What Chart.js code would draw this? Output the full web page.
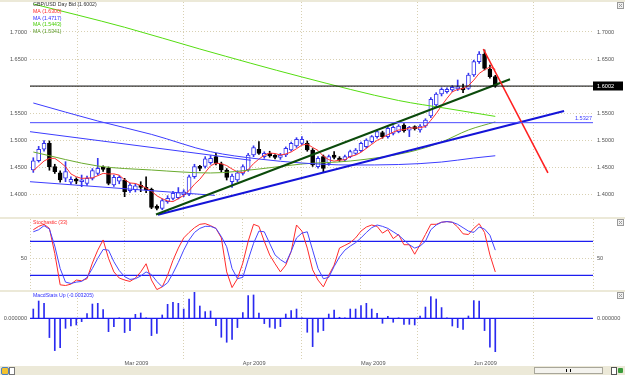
<!DOCTYPE html>
<html>
<head>
<meta charset="utf-8">
<title>GBP/USD Day Bid</title>
<script src="https://cdn.jsdelivr.net/npm/chart.js@4.4.1/dist/chart.umd.min.js"></script>
<style>
html,body{margin:0;padding:0;background:#ece9d8;}
#wrap{position:relative;width:625px;height:375px;overflow:hidden;background:#ece9d8;}
.pane{position:absolute;left:0;width:625px;background:#ffffff;}
.pane canvas{display:block;}
#p1{top:2px;height:215px;}
#p2{top:219px;height:71px;}
#p3{top:292px;height:74px;}
#bar{position:absolute;left:0;top:366px;width:625px;height:9px;background:#ece9d8;}
#ico{position:absolute;left:1px;top:1px;width:6px;height:6px;background:#f2c230;border:1px solid #4a7fc0;border-radius:2px;}
#lbtn{position:absolute;left:9px;top:1px;width:4px;height:6px;background:#fff;border:1px solid #777;}
#track{position:absolute;left:534px;top:1px;width:67px;height:5px;background:#f4f3ee;border:1px solid #a8a69a;}
#thumb{position:absolute;left:31px;top:1px;width:3px;height:3px;border-left:1px solid #000;border-right:1px solid #000;}
#rbtn{position:absolute;left:611px;top:1px;width:4px;height:6px;background:#fff;border:1px solid #555;}
#gbtn{position:absolute;left:618px;top:2px;width:5px;height:5px;background:#3a9a3a;border-radius:1px;}
</style>
</head>
<body>
<div id="wrap">
  <div class="pane" id="p1"><canvas id="c1" width="625" height="215"></canvas></div>
  <div class="pane" id="p2"><canvas id="c2" width="625" height="71"></canvas></div>
  <div class="pane" id="p3"><canvas id="c3" width="625" height="74"></canvas></div>
  <div id="bar"><div id="ico"></div><div id="lbtn"></div><div id="track"><div id="thumb"></div></div><div id="rbtn"></div><div id="gbtn"></div></div>
</div>
<script>
// ---------------- DATA ----------------
const monthLabels = ['Mar 2009', 'Apr 2009', 'May 2009', 'Jun 2009'];
const monthStartBar = [17, 39, 61, 82];          // bar index of first trading day of month
const priceTicks = [1.40, 1.45, 1.50, 1.55, 1.60, 1.65, 1.70];
const priceTicksHiddenLabel = [1.60];             // label hidden behind the last-price marker
const stochTicks = [50];
const macdTicks = [0];

const open = [
1.4454,1.4625,1.4836,1.4946,1.4515,1.4404,1.4301,1.4228,1.4275,1.4238,
1.4207,1.4300,1.4392,1.4484,1.4484,1.4177,1.4250,1.4269,1.4073,1.4090,
1.4158,1.4134,1.4097,1.3777,1.3746,1.3869,1.3931,1.3943,1.4000,1.4005,
1.4330,1.4500,1.4520,1.4590,1.4700,1.4570,1.4454,1.4238,1.4269,1.4392,
1.4454,1.4730,1.4836,1.4700,1.4762,1.4713,1.4688,1.4730,1.4823,1.4897,
1.4946,1.4946,1.4823,1.4515,1.4700,1.4577,1.4730,1.4669,1.4638,1.4700,
1.4762,1.4810,1.4884,1.4976,1.5069,1.5143,1.5069,1.5131,1.5161,1.5284,
1.5190,1.5241,1.5192,1.5266,1.5450,1.5653,1.5856,1.5900,1.5930,1.5950,
1.5960,1.5961,1.6207,1.6452,1.6594,1.6312,1.6175];
const high = [
1.4680,1.4890,1.4995,1.4990,1.4560,1.4440,1.4607,1.4330,1.4310,1.4361,
1.4340,1.4480,1.4669,1.4530,1.4510,1.4360,1.4350,1.4300,1.4210,1.4200,
1.4238,1.4330,1.4120,1.3810,1.3920,1.3980,1.4060,1.4130,1.4090,1.4360,
1.4560,1.4540,1.4700,1.4720,1.4760,1.4600,1.4480,1.4380,1.4440,1.4550,
1.4760,1.4900,1.4976,1.4790,1.4800,1.4740,1.4760,1.4880,1.4970,1.5050,
1.5069,1.4990,1.4850,1.4700,1.4730,1.4730,1.4792,1.4700,1.4730,1.4820,
1.4850,1.4970,1.5030,1.5090,1.5190,1.5170,1.5250,1.5270,1.5290,1.5310,
1.5260,1.5270,1.5290,1.5400,1.5790,1.5880,1.5970,1.5970,1.6010,1.6114,
1.6040,1.6240,1.6480,1.6637,1.6668,1.6391,1.6200];
const low = [
1.4410,1.4600,1.4800,1.4450,1.4390,1.4230,1.4238,1.4190,1.4200,1.4146,
1.4170,1.4270,1.4360,1.4430,1.4180,1.4150,1.4200,1.3962,1.4040,1.4050,
1.4054,1.4036,1.3740,1.3716,1.3720,1.3840,1.3900,1.3920,1.3960,1.3980,
1.4300,1.4440,1.4490,1.4560,1.4550,1.4420,1.4269,1.4134,1.4240,1.4360,
1.4430,1.4700,1.4740,1.4670,1.4690,1.4660,1.4650,1.4700,1.4800,1.4870,
1.4920,1.4800,1.4520,1.4490,1.4404,1.4540,1.4660,1.4610,1.4610,1.4680,
1.4740,1.4790,1.4860,1.4950,1.5040,1.5040,1.5040,1.5100,1.5140,1.5150,
1.5069,1.5190,1.5150,1.5240,1.5420,1.5620,1.5820,1.5870,1.5900,1.5920,
1.5880,1.5940,1.6180,1.6420,1.6300,1.6150,1.5979];
const close = [
1.4625,1.4836,1.4946,1.4515,1.4423,1.4269,1.4423,1.4282,1.4250,1.4269,
1.4300,1.4441,1.4484,1.4466,1.4207,1.4318,1.4318,1.4054,1.4177,1.4160,
1.4134,1.4085,1.3765,1.3746,1.3888,1.3931,1.4023,1.4036,1.4050,1.4330,
1.4515,1.4484,1.4660,1.4670,1.4577,1.4454,1.4318,1.4343,1.4404,1.4515,
1.4730,1.4866,1.4762,1.4762,1.4713,1.4688,1.4730,1.4853,1.4946,1.5019,
1.5019,1.4823,1.4546,1.4669,1.4484,1.4700,1.4688,1.4638,1.4700,1.4792,
1.4823,1.4946,1.5007,1.5069,1.5161,1.5069,1.5222,1.5241,1.5266,1.5180,
1.5240,1.5217,1.5266,1.5376,1.5758,1.5856,1.5943,1.5943,1.5980,1.5990,
1.5930,1.6207,1.6452,1.6594,1.6330,1.6175,1.6002];

// short MA (red), one value per bar
const maRed = [
1.4440,1.4530,1.4620,1.4670,1.4669,1.4598,1.4515,1.4382,1.4329,1.4299,
1.4305,1.4308,1.4349,1.4392,1.4380,1.4383,1.4359,1.4273,1.4215,1.4205,
1.4169,1.4122,1.4064,1.3978,1.3924,1.3883,1.3871,1.3925,1.3986,1.4074,
1.4191,1.4283,1.4408,1.4532,1.4581,1.4569,1.4536,1.4472,1.4419,1.4407,
1.4462,1.4572,1.4655,1.4727,1.4767,1.4758,1.4731,1.4749,1.4786,1.4847,
1.4913,1.4932,1.4871,1.4815,1.4708,1.4644,1.4617,1.4636,1.4642,1.4704,
1.4728,1.4780,1.4854,1.4927,1.5001,1.5050,1.5106,1.5152,1.5192,1.5196,
1.5230,1.5229,1.5234,1.5256,1.5371,1.5495,1.5640,1.5775,1.5896,1.5942,
1.5957,1.6010,1.6112,1.6235,1.6303,1.6352,1.6311];

// long MAs read at selected bars
const maBlueBars  = [0, 12, 22, 33, 42, 50, 59, 68, 76, 82, 86];
const maBlueVals  = [1.5690, 1.5358, 1.5111, 1.4792, 1.4657, 1.4583, 1.4546, 1.4555, 1.4601, 1.4675, 1.4717];
const maLimeBars  = [0, 17, 31, 50, 68, 77, 86];
const maLimeVals  = [1.7517, 1.7087, 1.6686, 1.6170, 1.5736, 1.5589, 1.5443];
const maOliveBars = [0, 12, 22, 33, 42, 50, 59, 70, 76, 81, 86];
const maOliveVals = [1.4786, 1.4528, 1.4454, 1.4399, 1.4472, 1.4565, 1.4620, 1.4786, 1.4970, 1.5192, 1.5341];

// drawn lines (bar index, price)
const lastClose = 1.6002;
const supportLevel = 1.5327;
const chanUpperBars = [-0.614, 40.5], chanUpperVals = [1.5161, 1.4633];
const chanLowerBars = [-0.614, 33.8], chanLowerVals = [1.4238, 1.3986];
const greenTrendBars = [22.84, 88.74], greenTrendVals = [1.3633, 1.6127];
const blueTrendBars = [23.2, 98.8],   blueTrendVals = [1.3629, 1.5542];
const redTrendBars = [83.77, 95.8],   redTrendVals = [1.6686, 1.4399];

// Stochastic (33)
const stochLevels = [75, 25];
const stochK = [
92,97,100,94,57,11,10,12,18,17,
20,43,62,77,50,30,21,18,16,21,
30,42,18,4,8,25,47,65,80,88,
95,100,101,98,94,80,30,7,20,43,
75,100,97,75,55,42,30,40,60,99,
90,65,33,18,8,25,40,65,69,73,
80,90,96,99,97,87,92,79,85,70,
70,56,70,85,100,100,103,104,103,96,
86,85,94,101,88,55,30];
const stochD = [
89,92,98,93,68,35,15,13,15,16,
22,35,50,63,62,45,32,23,19,20,
24,30,26,16,8,14,28,44,62,77,
88,94,97,97,94,82,67,35,20,22,
48,72,90,89,72,55,48,43,60,80,
87,89,62,35,20,22,38,52,62,68,
73,80,88,95,99,97,94,89,84,77,
70,65,68,75,92,99,103,104,103,100,
95,90,88,96,93,84,62];

// MacdStats Up
const macd = [
0.00089,0.00166,0.00144,-0.00185,-0.00310,-0.00281,-0.00096,-0.00074,-0.00064,-0.00032,
0.00045,0.00137,0.00144,0.00084,-0.00128,-0.00080,0.00002,-0.00137,-0.00118,0.00038,
0.00051,0.00002,-0.00166,-0.00144,0.00032,0.00134,0.00154,0.00144,0.00089,0.00185,
0.00250,0.00118,0.00064,0.00070,-0.00070,-0.00182,-0.00230,-0.00202,-0.00089,0.00055,
0.00218,0.00224,0.00051,-0.00051,-0.00086,-0.00096,-0.00080,0.00041,0.00074,0.00089,
0.00002,-0.00134,-0.00272,-0.00134,-0.00118,0.00041,0.00080,0.00010,0.00003,0.00089,
0.00089,0.00122,0.00144,0.00089,0.00048,-0.00048,0.00019,-0.00038,0.00002,-0.00058,
-0.00058,-0.00064,0.00022,0.00108,0.00208,0.00185,0.00103,0.00002,-0.00074,-0.00089,
-0.00106,0.00022,0.00170,0.00166,-0.00118,-0.00278,-0.003205];

// ---------------- STYLE / LAYOUT ----------------
const X_MIN = -0.614, X_MAX = 104.19;
const FONT = '"Liberation Sans", Arial, sans-serif';
const GRID = '#d8d0b2';
const TXT = '#555555';
const UP = '#3636ee';
const DOWN = '#000000';

const idx = close.map((_, i) => i);
const pts = (xs, ys) => xs.map((x, k) => ({x: x, y: ys[k]}));
const hline = v => pts([X_MIN, X_MAX], [v, v]);
function line(data, color, width, order, extra) {
  return Object.assign({type: 'line', data: data, borderColor: color, backgroundColor: color,
    borderWidth: width, pointRadius: 0, pointHoverRadius: 0, fill: false, tension: 0,
    order: order, xAxisID: 'x', yAxisID: 'y'}, extra || {});
}

function xAxis(showLabels) {
  return {
    type: 'linear', min: X_MIN, max: X_MAX, offset: false,
    grid: {color: GRID, drawTicks: false, lineWidth: 1},
    border: {display: false, dash: [1, 2]},
    ticks: {display: showLabels, autoSkip: false, maxRotation: 0, minRotation: 0, align: 'start',
      padding: 1, color: TXT, font: {family: FONT, size: 5.6},
      callback: v => { const k = monthStartBar.indexOf(v); return k >= 0 ? monthLabels[k] : ''; }},
    afterBuildTicks: s => { s.ticks = [X_MIN].concat(monthStartBar, [X_MAX]).map(v => ({value: v})); },
    afterFit: s => { s.height = showLabels ? 7 : 0; s.paddingLeft = 0; s.paddingRight = 0; }
  };
}
function yAxes(min, max, tickVals, fmt) {
  const common = {
    min: min, max: max,
    afterBuildTicks: s => { s.ticks = tickVals.map(v => ({value: v})); }
  };
  return {
    y: Object.assign({}, common, {
      position: 'left',
      grid: {color: GRID, drawTicks: false, lineWidth: 1},
      border: {display: false, dash: [1, 2]},
      ticks: {padding: 3, color: TXT, font: {family: FONT, size: 5.6}, callback: v => fmt(v)},
      afterFit: s => { s.width = 30; s.paddingTop = 0; s.paddingBottom = 0; }
    }),
    y2: Object.assign({}, common, {
      position: 'right',
      grid: {display: false, drawTicks: false},
      border: {display: false},
      ticks: {padding: 4, color: TXT, font: {family: FONT, size: 5.6}, callback: v => fmt(v)},
      afterFit: s => { s.width = 32; s.paddingTop = 0; s.paddingBottom = 0; }
    })
  };
}
function decor(items, extra) {
  return {
    id: 'decor',
    afterDraw(chart) {
      const ctx = chart.ctx, a = chart.chartArea;
      ctx.save();
      ctx.font = '5.2px ' + FONT;
      ctx.textBaseline = 'middle';
      ctx.textAlign = 'left';
      items.forEach(it => { ctx.fillStyle = it.color; ctx.fillText(it.text, a.left + 3, it.y); });
      if (extra) extra(chart, ctx);
      const bx = chart.width - 7.5, by = 0.5;
      ctx.lineWidth = 1;
      ctx.fillStyle = '#f2f2f2'; ctx.strokeStyle = '#9a9a9a';
      ctx.fillRect(bx, by, 6, 6); ctx.strokeRect(bx, by, 6, 6);
      ctx.beginPath();
      ctx.moveTo(bx + 1.5, by + 1.5); ctx.lineTo(bx + 4.5, by + 4.5);
      ctx.moveTo(bx + 4.5, by + 1.5); ctx.lineTo(bx + 1.5, by + 4.5);
      ctx.stroke();
      ctx.restore();
    }
  };
}
const baseOpts = {
  responsive: false, animation: false, devicePixelRatio: 1,
  layout: {padding: 0, autoPadding: false},
  plugins: {legend: {display: false}, tooltip: {enabled: false}},
  events: []
};

// ---------------- MAIN PRICE PANE ----------------
const isUp = i => close[i] >= open[i];
const priceFmt = v => priceTicksHiddenLabel.some(h => Math.abs(h - v) < 1e-9) ? '' : v.toFixed(4);
new Chart(document.getElementById('c1'), {
  type: 'bar',
  data: {datasets: [
    line(hline(lastClose), '#000000', 1, 0),
    line(hline(supportLevel), '#4a4aff', 1, 0),
    line(pts(redTrendBars, redTrendVals), '#ff2020', 1.6, 0),
    line(pts(greenTrendBars, greenTrendVals), '#0b4a0b', 2, 0),
    line(pts(blueTrendBars, blueTrendVals), '#1414d8', 2, 0),
    line(pts(chanUpperBars, chanUpperVals), '#3c3cff', 1, 1),
    line(pts(chanLowerBars, chanLowerVals), '#3c3cff', 1, 1),
    line(pts(maBlueBars, maBlueVals), '#3c3cff', 1, 1, {cubicInterpolationMode: 'monotone'}),
    line(pts(maLimeBars, maLimeVals), '#55dd11', 1, 1, {cubicInterpolationMode: 'monotone'}),
    line(pts(maOliveBars, maOliveVals), '#6aab2e', 1, 1, {cubicInterpolationMode: 'monotone'}),
    line(idx.map(i => ({x: i, y: maRed[i]})), '#ff3030', 1, 1),
    {type: 'bar', data: idx.map(i => ({x: i, y: [open[i], close[i]]})),
      backgroundColor: idx.map(i => isUp(i) ? '#ffffff' : DOWN),
      borderColor: idx.map(i => isUp(i) ? UP : DOWN),
      borderWidth: 1, borderSkipped: false, barThickness: 4, minBarLength: 2,
      grouped: false, order: 2, xAxisID: 'x', yAxisID: 'y'},
    {type: 'bar', data: idx.map(i => ({x: i, y: [low[i], high[i]]})),
      backgroundColor: idx.map(i => isUp(i) ? UP : DOWN),
      borderWidth: 0, barThickness: 1, grouped: false, order: 3, xAxisID: 'x', yAxisID: 'y'}
  ]},
  options: Object.assign({}, baseOpts, {
    scales: Object.assign({x: xAxis(false)}, yAxes(1.3587, 1.7553, priceTicks, priceFmt))
  }),
  plugins: [decor([
    {text: 'GBP/USD Day Bid (1.6002)', color: '#333333', y: 3},
    {text: 'MA (1.6300)', color: '#ff2a2a', y: 9.7},
    {text: 'MA (1.4717)', color: '#3030ff', y: 16.3},
    {text: 'MA (1.5443)', color: '#44cc00', y: 23},
    {text: 'MA (1.5341)', color: '#5c9a28', y: 29.7}
  ], (chart, ctx) => {
    const ys = chart.scales.y, a = chart.chartArea;
    const yb = ys.getPixelForValue(lastClose);
    ctx.fillStyle = '#000000';
    ctx.fillRect(a.right, Math.round(yb) - 4.5, 30, 9);
    ctx.fillStyle = '#ffffff';
    ctx.font = '5.6px ' + FONT;
    ctx.fillText(lastClose.toFixed(4), a.right + 4, yb);
    const yl = ys.getPixelForValue(supportLevel);
    ctx.fillStyle = '#3c3cff';
    ctx.textAlign = 'right';
    ctx.fillText(supportLevel.toFixed(4), a.right - 1, yl - 4.5);
  })]
});

// ---------------- STOCHASTIC PANE ----------------
new Chart(document.getElementById('c2'), {
  type: 'line',
  data: {datasets: [
    line(hline(stochLevels[0]), '#1c1cf0', 1.3, 2),
    line(hline(stochLevels[1]), '#1c1cf0', 1.3, 2),
    line(idx.map(i => ({x: i, y: stochK[i]})), '#ff2a2a', 1, 1),
    line(idx.map(i => ({x: i, y: stochD[i]})), '#4646ff', 1, 0)
  ]},
  options: Object.assign({}, baseOpts, {
    scales: Object.assign({x: xAxis(false)}, yAxes(3.4, 107.8, stochTicks, v => String(Math.round(v))))
  }),
  plugins: [decor([{text: 'Stochastic (33)', color: '#ff2a2a', y: 3.5}])]
});

// ---------------- MACD PANE ----------------
new Chart(document.getElementById('c3'), {
  type: 'bar',
  data: {datasets: [
    line(hline(0), '#1c1cf0', 1.2, 0),
    {type: 'bar', data: idx.map(i => ({x: i, y: macd[i]})), backgroundColor: '#2a2af0',
      borderWidth: 0, barThickness: 1, grouped: false, order: 1, xAxisID: 'x', yAxisID: 'y'}
  ]},
  options: Object.assign({}, baseOpts, {
    scales: Object.assign({x: xAxis(true)}, yAxes(-0.003907, 0.002525, macdTicks, v => Math.abs(v).toFixed(6)))
  }),
  plugins: [decor([{text: 'MacdStats Up (-0.003205)', color: '#3030ff', y: 4}])]
});
</script>
</body>
</html>
